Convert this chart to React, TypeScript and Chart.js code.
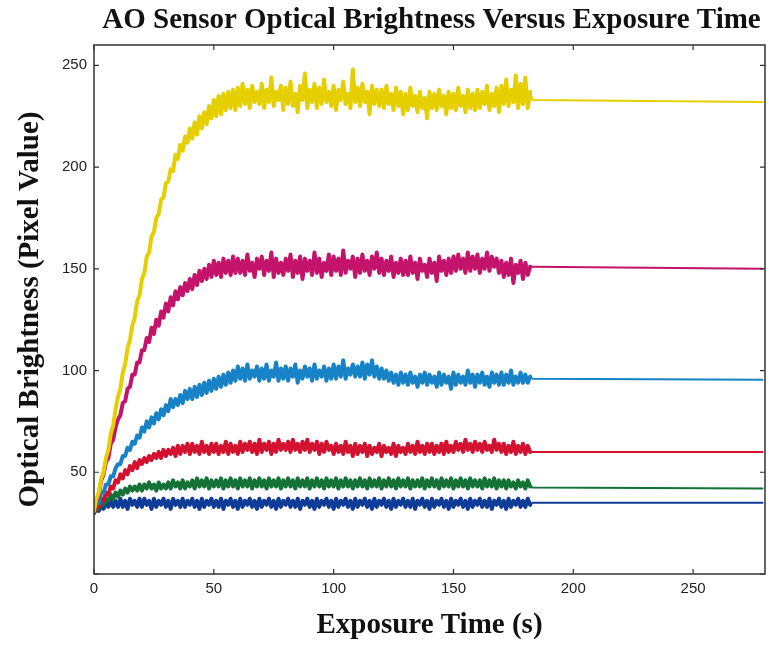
import React, { useEffect, useRef } from "react";
import { Chart, registerables } from "chart.js";

Chart.register(...registerables);

// Sampling clock of the recorded traces (seconds)
const FIRST_SAMPLE_S = 0;
const SAMPLE_INTERVAL_S = 1;
// Held (flat) value after recording stops
const TAIL_START_S = 183;
const TAIL_END_S = 279;

const X_MIN = 0;
const X_MAX = 280;
const Y_MIN = 0;
const Y_MAX = 260;
const TICK_STEP = 50;

const SERIES_NAMES = ["Yellow", "Magenta", "Cyan", "Red", "Green", "Navy"];
const SERIES_COLORS = ["#e6cf00", "#c4136a", "#1782c5", "#d2122f", "#157236", "#0f3c96"];

const YELLOW = [
  31,37,40,47,50,57,61,69,73,81,
  87,91,99,103,111,115,122,126,134,137,
  145,148,156,158,166,168,175,177,184,185,
  192,193,199,198,206,204,211,208,215,212,
  219,214,222,216,225,219,227,221,230,224,
  233,225,235,226,236,228,237,229,238,228,
  239,230,241,231,238,229,240,232,237,231,
  241,229,238,232,244,230,237,233,240,228,
  239,231,242,230,236,227,240,233,246,229,
  238,232,241,229,239,231,243,232,237,230,
  240,228,238,233,242,231,236,229,248,232,
  239,230,241,232,237,226,240,231,238,230,
  238,229,240,231,236,228,239,230,237,226,
  236,228,239,230,235,227,237,229,234,224,
  237,229,236,228,238,230,235,226,237,229,
  236,228,239,230,235,227,238,229,236,228,
  238,229,237,231,240,228,236,230,239,227,
  240,231,243,230,238,232,245,229,241,231,
  244,229,237,
];
const MAGENTA = [
  30,36,39,46,49,55,57,64,66,72,
  76,78,84,85,91,92,98,98,104,104,
  110,110,116,114,121,118,125,122,129,126,
  133,129,136,132,139,135,141,137,143,139,
  145,140,147,142,149,144,150,145,152,146,
  154,147,153,146,155,148,154,147,156,148,
  155,148,154,147,157,149,153,146,155,150,
  156,147,154,149,158,146,155,148,153,147,
  155,149,157,146,154,148,156,145,155,149,
  154,147,158,148,155,146,153,149,157,147,
  156,149,155,147,159,148,154,150,156,146,
  155,148,157,149,154,147,156,150,158,148,
  155,147,154,149,156,146,153,148,155,147,
  154,147,156,148,153,145,155,149,152,146,
  155,148,153,144,156,149,154,147,155,148,
  156,149,157,150,155,148,158,149,156,150,
  157,148,155,150,158,149,156,151,155,148,
  154,146,153,147,155,143,152,148,154,145,
  153,147,151,
];
const CYAN = [
  31,34,35,40,40,44,44,48,48,52,
  54,54,58,58,62,61,65,64,68,67,
  72,70,75,72,77,74,79,76,81,78,
  83,80,86,82,86,83,88,84,90,86,
  91,86,92,87,93,88,94,89,95,90,
  96,91,97,92,98,93,99,94,100,95,
  102,96,101,95,103,96,100,97,102,95,
  101,96,103,95,100,97,104,95,101,96,
  102,95,101,97,103,94,100,96,102,97,
  101,95,103,96,100,97,102,95,101,96,
  103,96,102,97,105,96,101,98,103,97,
  102,97,104,96,103,98,105,97,102,96,
  101,96,100,95,99,94,98,93,99,94,
  98,93,99,94,97,92,98,94,99,93,
  98,94,97,92,99,93,98,94,97,91,
  99,93,98,94,97,93,100,94,98,92,
  98,94,99,93,97,92,99,94,98,93,
  99,93,98,94,100,93,97,94,99,94,
  98,94,97,
];
const RED = [
  30,33,33,37,36,40,39,43,42,46,
  45,49,47,51,49,53,51,55,52,56,
  54,57,55,58,56,59,57,60,57,61,
  58,61,59,62,58,63,59,63,60,64,
  59,64,60,63,59,65,60,63,59,64,
  60,64,59,63,60,65,59,64,60,63,
  59,65,60,64,61,65,60,64,59,66,
  60,64,61,65,59,64,60,66,61,64,
  61,65,60,66,61,64,60,65,61,66,
  60,64,61,65,59,64,60,65,61,63,
  59,64,60,63,59,65,60,63,58,64,
  59,63,60,64,58,63,59,62,60,64,
  58,63,60,62,59,64,58,63,60,62,
  59,64,60,63,59,65,60,63,59,64,
  60,64,59,63,60,64,59,65,60,63,
  60,65,61,64,60,66,61,64,60,65,
  61,64,60,65,61,63,60,66,61,64,
  60,64,59,63,60,65,59,63,60,64,
  59,63,60,
];
const GREEN = [
  30,32,32,35,34,37,36,39,37,40,
  38,41,39,42,40,43,41,43,41,44,
  41,44,42,45,42,44,41,45,42,44,
  42,45,42,46,43,45,42,46,42,45,
  43,46,42,47,43,46,43,47,42,46,
  43,46,43,47,42,46,43,47,43,46,
  42,47,43,46,43,47,42,46,43,47,
  43,46,42,47,43,46,43,47,42,46,
  43,47,43,46,42,47,43,46,43,47,
  42,46,43,47,43,46,42,47,43,46,
  43,47,42,46,43,47,43,46,42,46,
  43,47,43,46,42,47,43,46,43,47,
  42,46,43,47,43,46,42,47,43,46,
  43,47,42,46,43,46,43,47,42,46,
  43,47,43,46,42,47,43,46,43,47,
  42,46,43,47,43,46,42,47,43,46,
  43,46,42,47,43,46,43,47,42,46,
  43,46,42,46,43,45,42,46,43,45,
  42,46,43,
];
const NAVY = [
  30,32,31,34,32,35,33,36,33,36,
  33,37,33,36,32,37,34,36,33,37,
  33,37,34,36,32,37,33,36,34,37,
  33,36,32,37,34,36,33,37,33,36,
  34,37,33,36,32,37,33,36,34,37,
  33,36,33,37,32,36,34,37,33,36,
  32,37,33,36,34,37,33,36,32,37,
  33,36,34,37,33,36,32,37,33,36,
  34,37,33,36,33,37,32,36,34,37,
  33,36,32,37,33,36,34,37,33,36,
  32,37,33,36,34,37,33,36,32,37,
  33,36,34,37,33,36,32,37,33,36,
  34,37,33,36,32,37,33,36,34,37,
  33,36,33,37,32,36,34,37,33,36,
  32,37,33,36,34,37,33,36,32,37,
  33,36,34,37,33,36,32,37,33,36,
  34,37,33,36,33,37,32,36,34,37,
  33,36,32,37,33,36,34,37,33,36,
  33,37,34,
];
const SERIES_VALUES = [YELLOW, MAGENTA, CYAN, RED, GREEN, NAVY];
const TAIL_START_VALUES = [233, 151, 96, 60, 42.5, 35];
const TAIL_END_VALUES = [232, 150, 95.5, 60, 42, 35];

const TITLE = "AO Sensor Optical Brightness Versus Exposure Time";
const X_TITLE = "Exposure Time (s)";
const Y_TITLE = "Optical Brightness (Pixel Value)";

const SERIF = '"Liberation Serif", "Times New Roman", serif';
const SANS = '"Liberation Sans", Arial, sans-serif';

const framePlugin = {
  id: "frame",
  afterDraw(chart: any) {
    const { ctx, chartArea: a, scales } = chart;
    ctx.save();
    ctx.strokeStyle = "#333";
    ctx.lineWidth = 1.5;
    ctx.strokeRect(a.left, a.top, a.right - a.left, a.bottom - a.top);
    ctx.lineWidth = 1.2;
    const len = 5;
    ctx.beginPath();
    scales.x.ticks.forEach((t: any) => {
      const px = scales.x.getPixelForValue(t.value);
      ctx.moveTo(px, a.bottom);
      ctx.lineTo(px, a.bottom - len);
      ctx.moveTo(px, a.top);
      ctx.lineTo(px, a.top + len);
    });
    scales.y.ticks.forEach((t: any) => {
      const py = scales.y.getPixelForValue(t.value);
      ctx.moveTo(a.left, py);
      ctx.lineTo(a.left + len, py);
      ctx.moveTo(a.right, py);
      ctx.lineTo(a.right - len, py);
    });
    ctx.stroke();
    // title
    ctx.fillStyle = "#111";
    ctx.font = `bold 29px ${SERIF}`;
    ctx.textAlign = "center";
    ctx.textBaseline = "alphabetic";
    ctx.fillText(TITLE, (a.left + a.right) / 2 + 2, 28);
    ctx.restore();
  },
};

export default function App() {
  const ref = useRef<HTMLCanvasElement | null>(null);

  useEffect(() => {
    if (!ref.current) return;
    const datasets = SERIES_VALUES.map((vals, si) => {
      const pts = vals.map((v, i) => ({ x: FIRST_SAMPLE_S + i * SAMPLE_INTERVAL_S, y: v }));
      pts.push({ x: TAIL_START_S, y: TAIL_START_VALUES[si] });
      pts.push({ x: TAIL_END_S, y: TAIL_END_VALUES[si] });
      return {
        label: SERIES_NAMES[si],
        data: pts,
        borderColor: SERIES_COLORS[si],
        backgroundColor: SERIES_COLORS[si],
        borderWidth: 4,
        borderJoinStyle: "round" as const,
        borderCapStyle: "round" as const,
        segment: {
          borderWidth: (c: any) => (c.p0.parsed.x >= TAIL_START_S - 1 ? 2 : undefined),
        },
        pointRadius: 0,
        tension: 0,
        fill: false,
      };
    });
    const chart = new Chart(ref.current, {
      type: "line",
      data: { datasets },
      options: {
        animation: false,
        responsive: false,
        maintainAspectRatio: false,
        layout: { padding: { top: 45, right: 6, left: 0, bottom: 0 } },
        plugins: { legend: { display: false }, tooltip: { enabled: false }, title: { display: false } },
        scales: {
          x: {
            type: "linear",
            min: X_MIN,
            max: X_MAX,
            grid: { display: false, drawTicks: false },
            border: { display: false },
            ticks: {
              stepSize: TICK_STEP,
              includeBounds: false,
              padding: 6,
              color: "#222",
              font: { family: SANS, size: 15 },
              maxRotation: 0,
            },
            title: {
              display: true,
              text: X_TITLE,
              color: "#111",
              font: { family: SERIF, size: 29, weight: "bold" },
              padding: { top: 0, bottom: 6 },
            },
            afterFit: (s: any) => {
              s.height = 75;
            },
          },
          y: {
            type: "linear",
            min: Y_MIN,
            max: Y_MAX,
            grid: { display: false, drawTicks: false },
            border: { display: false },
            ticks: {
              stepSize: TICK_STEP,
              includeBounds: false,
              padding: 7,
              color: "#222",
              font: { family: SANS, size: 15 },
              callback: (v: any) => (v === 0 ? "" : String(v)),
            },
            title: {
              display: true,
              text: Y_TITLE,
              color: "#111",
              font: { family: SERIF, size: 29, weight: "bold" },
              padding: { top: 13, bottom: 0 },
            },
            afterFit: (s: any) => {
              s.width = 94;
            },
          },
        },
      },
      plugins: [framePlugin],
    });
    return () => chart.destroy();
  }, []);

  return (
    <div style={{ position: "fixed", left: 0, top: 0, width: 771, height: 649, background: "#fff" }}>
      <canvas ref={ref} width={771} height={649} style={{ width: 771, height: 649, display: "block" }} />
    </div>
  );
}
